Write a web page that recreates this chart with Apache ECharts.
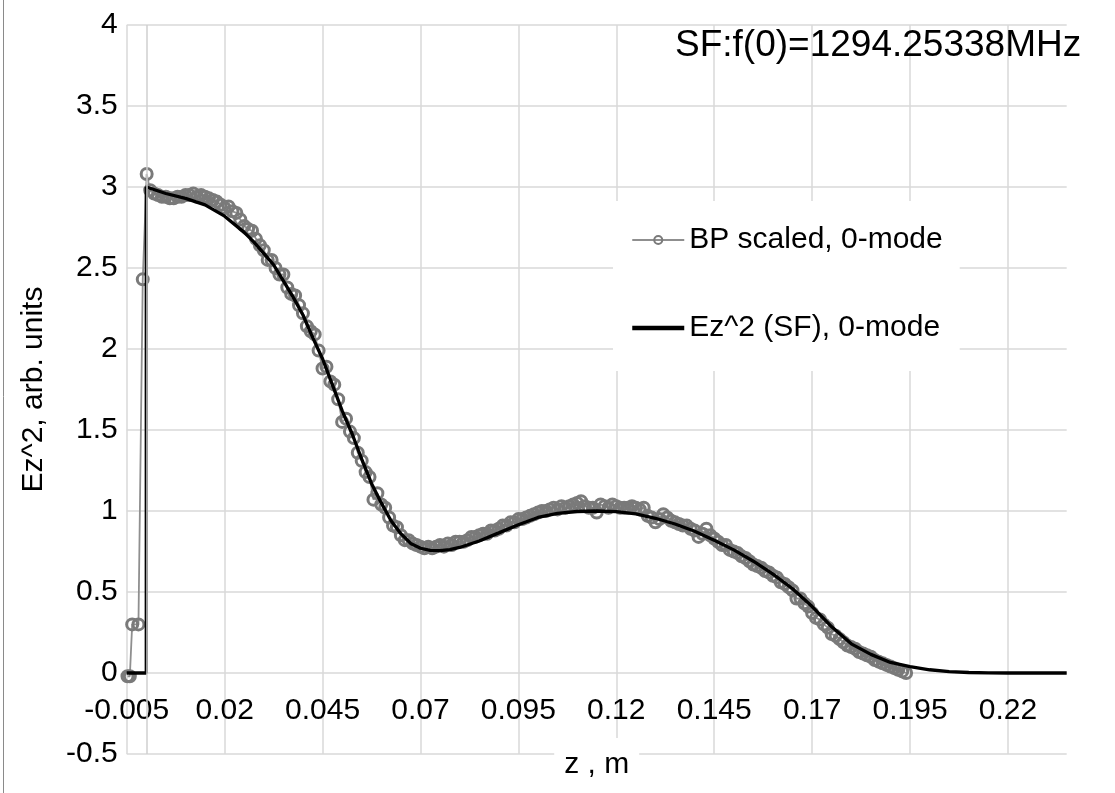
<!DOCTYPE html>
<html>
<head>
<meta charset="utf-8">
<script src="https://cdn.jsdelivr.net/npm/echarts@6/dist/echarts.min.js"></script>
<style>
  html, body { margin: 0; padding: 0; background: #fff; }
  #chart { width: 1115px; height: 793px; }
</style>
</head>
<body>
<div id="chart"></div>
<script>
// Bead-pull measurement (scaled), 0-mode: positions z [m] and Ez^2 values
const bpZ = [
  -0.0048, -0.0042, -0.0036, -0.0020, -0.0009, 0.0001,
  0.001, 0.002, 0.003, 0.004, 0.005, 0.006, 0.007, 0.008, 0.009,
  0.010, 0.011, 0.012, 0.013, 0.014, 0.015, 0.016, 0.017, 0.018, 0.019,
  0.020, 0.021, 0.022, 0.023, 0.024, 0.025, 0.026, 0.027, 0.028, 0.029,
  0.030, 0.031, 0.032, 0.033, 0.034, 0.035, 0.036, 0.037, 0.038, 0.039,
  0.040, 0.041, 0.042, 0.043, 0.044, 0.045, 0.046, 0.047, 0.048, 0.049,
  0.050, 0.051, 0.052, 0.053, 0.054, 0.055, 0.056, 0.057, 0.058, 0.059,
  0.060, 0.061, 0.062, 0.063, 0.064, 0.065, 0.066, 0.067, 0.068, 0.069,
  0.070, 0.071, 0.072, 0.073, 0.074, 0.075, 0.076, 0.077, 0.078, 0.079,
  0.080, 0.081, 0.082, 0.083, 0.084, 0.085, 0.086, 0.087, 0.088, 0.089,
  0.090, 0.091, 0.092, 0.093, 0.094, 0.095, 0.096, 0.097, 0.098, 0.099,
  0.100, 0.101, 0.102, 0.103, 0.104, 0.105, 0.106, 0.107, 0.108, 0.109,
  0.110, 0.111, 0.112, 0.113, 0.114, 0.115, 0.116, 0.117, 0.118, 0.119,
  0.120, 0.121, 0.122, 0.123, 0.124, 0.125, 0.126, 0.127, 0.128, 0.129,
  0.130, 0.131, 0.132, 0.133, 0.134, 0.135, 0.136, 0.137, 0.138, 0.139,
  0.140, 0.141, 0.142, 0.143, 0.144, 0.145, 0.146, 0.147, 0.148, 0.149,
  0.150, 0.151, 0.152, 0.153, 0.154, 0.155, 0.156, 0.157, 0.158, 0.159,
  0.160, 0.161, 0.162, 0.163, 0.164, 0.165, 0.166, 0.167, 0.168, 0.169,
  0.170, 0.171, 0.172, 0.173, 0.174, 0.175, 0.176, 0.177, 0.178, 0.179,
  0.180, 0.181, 0.182, 0.183, 0.184, 0.185, 0.186, 0.187, 0.188, 0.189,
  0.190, 0.191, 0.192, 0.193, 0.194
];
const bpE = [
  -0.02, -0.02, 0.30, 0.30, 2.43, 3.08,
  2.98, 2.96, 2.95, 2.94, 2.94, 2.93, 2.93, 2.94, 2.94,
  2.95, 2.95, 2.96, 2.94, 2.95, 2.94, 2.93, 2.92, 2.91, 2.89,
  2.87, 2.88, 2.85, 2.84, 2.80, 2.76, 2.74, 2.73, 2.68, 2.64,
  2.61, 2.55, 2.55, 2.50, 2.46, 2.46, 2.38, 2.34, 2.33, 2.27,
  2.22, 2.14, 2.11, 2.09, 1.99, 1.88, 1.89, 1.80, 1.78, 1.69,
  1.55, 1.57, 1.49, 1.45, 1.36, 1.31, 1.24, 1.21, 1.07, 1.11,
  1.04, 1.02, 0.96, 0.91, 0.90, 0.85, 0.82, 0.82, 0.80, 0.79,
  0.78, 0.77, 0.78, 0.77, 0.78, 0.79, 0.78, 0.80, 0.79, 0.81,
  0.81, 0.81, 0.82, 0.84, 0.84, 0.85, 0.86, 0.86, 0.88, 0.88,
  0.89, 0.91, 0.91, 0.93, 0.93, 0.95, 0.95, 0.96, 0.97, 0.98,
  0.99, 1.00, 1.00, 1.01, 1.02, 1.01, 1.03, 1.02, 1.03, 1.04,
  1.05, 1.06, 1.03, 1.02, 1.02, 0.99, 1.04, 1.03, 1.02, 1.04,
  1.03, 1.02, 1.02, 1.02, 1.03, 1.02, 1.01, 1.02, 0.97, 0.96,
  0.93, 0.95, 0.98, 0.96, 0.94, 0.93, 0.92, 0.91, 0.91, 0.89,
  0.88, 0.84, 0.86, 0.89, 0.85, 0.83, 0.81, 0.79, 0.79, 0.76,
  0.75, 0.74, 0.72, 0.71, 0.69, 0.67, 0.66, 0.65, 0.63, 0.62,
  0.60, 0.59, 0.56, 0.55, 0.53, 0.51, 0.46, 0.46, 0.43, 0.41,
  0.37, 0.34, 0.33, 0.30, 0.28, 0.24, 0.23, 0.21, 0.19, 0.17,
  0.16, 0.15, 0.13, 0.12, 0.11, 0.10, 0.08, 0.07, 0.06, 0.05,
  0.04, 0.03, 0.02, 0.01, 0.00
];

// Superfish field profile Ez^2, 0-mode
const sfZ = [
  -0.005, 0, 0, 0.005, 0.01, 0.015, 0.02, 0.025, 0.0275, 0.03, 0.0325,
  0.035, 0.0375, 0.04, 0.0425, 0.045, 0.0475, 0.05, 0.0525, 0.055, 0.0575,
  0.06, 0.0625, 0.065, 0.0675, 0.07, 0.0725, 0.075, 0.0775, 0.08, 0.085,
  0.09, 0.095, 0.1, 0.105, 0.11, 0.115, 0.12, 0.125, 0.13, 0.135, 0.14,
  0.145, 0.15, 0.155, 0.16, 0.165, 0.17, 0.175, 0.18, 0.185, 0.19, 0.195,
  0.2, 0.205, 0.21, 0.215, 0.22, 0.235
];
const sfE = [
  0, 0, 3.0, 2.96, 2.93, 2.89, 2.82, 2.72, 2.66, 2.59, 2.52,
  2.42, 2.32, 2.21, 2.07, 1.94, 1.78, 1.62, 1.48, 1.32, 1.17,
  1.05, 0.94, 0.86, 0.80, 0.77, 0.757, 0.755, 0.762, 0.775, 0.815,
  0.865, 0.915, 0.96, 0.985, 0.997, 1.0, 0.996, 0.982, 0.955, 0.92, 0.875,
  0.82, 0.76, 0.69, 0.61, 0.52, 0.41, 0.285, 0.18, 0.115, 0.065, 0.039,
  0.02, 0.009, 0.003, 0.001, 0, 0
];

// Axis ticks
const xTicks = { min: -0.005, max: 0.235, step: 0.025 };
const yTicks = { min: -0.5, max: 4, step: 0.5 };

const seriesNames = ['BP scaled, 0-mode', 'Ez^2 (SF), 0-mode'];
const titleText = 'SF:f(0)=1294.25338MHz';
const xName = 'z , m';
const yName = 'Ez^2, arb. units';

const FONT = '"Liberation Sans", Arial, sans-serif';
const GRID = '#d9d9d9';

const zip = (xs, ys) => xs.map((x, i) => [x, ys[i]]);

const chart = echarts.init(document.getElementById('chart'), null, { renderer: 'canvas' });

chart.setOption({
  animation: false,
  backgroundColor: '#fff',
  textStyle: { fontFamily: FONT, color: '#000' },
  title: {
    text: titleText,
    left: 675,
    top: 27,
    padding: 0,
    textStyle: { fontFamily: FONT, fontSize: 37, fontWeight: 'normal', color: '#000', lineHeight: 37 }
  },
  grid: { left: 126.7, right: 48.3, top: 25, bottom: 39, containLabel: false, outerBoundsMode: 'none' },
  legend: {
    orient: 'vertical',
    left: 613,
    top: 201,
    padding: [22, 17, 26, 17],
    itemGap: 54,
    itemWidth: 52,
    itemHeight: 10,
    backgroundColor: '#fff',
    selectedMode: false,
    textStyle: { fontFamily: FONT, fontSize: 30, color: '#000', lineHeight: 34 },
    data: [
      { name: seriesNames[0], itemStyle: { borderWidth: 2 } },
      { name: seriesNames[1], itemStyle: { opacity: 0 }, lineStyle: { width: 4.5 } }
    ]
  },
  xAxis: {
    type: 'value',
    min: xTicks.min,
    max: xTicks.max,
    interval: xTicks.step,
    name: xName,
    nameLocation: 'middle',
    nameGap: -16,
    nameMoveOverlap: false,
    nameTextStyle: {
      fontFamily: FONT, fontSize: 30, color: '#000', lineHeight: 34,
      backgroundColor: '#fff', padding: [10, 10, 10, 10]
    },
    // labels sit just under the z axis line at Ez^2 = 0
    axisLine: { show: false, onZero: false },
    axisTick: { show: false },
    axisLabel: { fontFamily: FONT, fontSize: 30, color: '#000', margin: -58, showMaxLabel: false },
    splitLine: { show: true, showMaxLine: false, lineStyle: { color: GRID, width: 1.5 } }
  },
  yAxis: {
    type: 'value',
    min: yTicks.min,
    max: yTicks.max,
    interval: yTicks.step,
    name: yName,
    nameLocation: 'middle',
    nameGap: 78,
    nameTextStyle: { fontFamily: FONT, fontSize: 30, color: '#000' },
    axisLine: { show: false },
    axisTick: { show: false },
    axisLabel: { fontFamily: FONT, fontSize: 30, color: '#000', margin: 9 },
    splitLine: { show: true, lineStyle: { color: GRID, width: 1.5 } }
  },
  series: [
    {
      name: seriesNames[0],
      type: 'line',
      data: zip(bpZ, bpE),
      symbol: 'circle',
      symbolSize: 11,
      showSymbol: true,
      showAllSymbol: true,
      lineStyle: { color: '#8f8f8f', width: 1.8 },
      itemStyle: { color: 'rgba(255,255,255,0)', borderColor: '#7a7a7a', borderWidth: 3 },
      emphasis: { disabled: true },
      z: 2,
      markLine: {
        silent: true,
        symbol: 'none',
        label: { show: false },
        lineStyle: { color: '#cfcfcf', width: 1.5, type: 'solid' },
        data: [{ xAxis: 0 }]
      }
    },
    {
      name: seriesNames[1],
      type: 'line',
      data: zip(sfZ, sfE),
      symbol: 'none',
      lineStyle: { color: '#000', width: 3.3 },
      itemStyle: { color: '#000' },
      emphasis: { disabled: true },
      z: 3
    }
  ],
  graphic: [
    {
      type: 'line',
      shape: { x1: 3.5, y1: 0, x2: 3.5, y2: 793 },
      style: { stroke: '#8a8a8a', lineWidth: 1 },
      silent: true
    }
  ]
});
</script>
</body>
</html>
